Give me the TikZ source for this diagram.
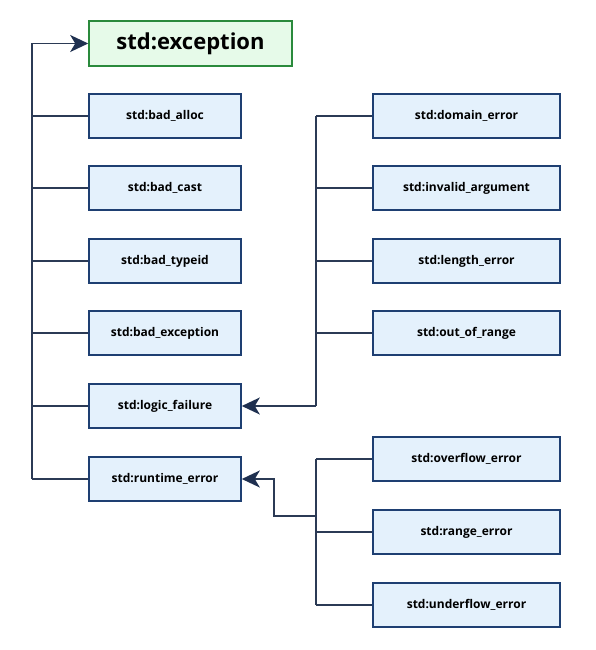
\documentclass[tikz,border=0pt]{standalone}
\usepackage{fontspec}
\setmainfont{Open Sans}
\usetikzlibrary{arrows.meta}
\definecolor{boxfill}{HTML}{E4F1FC}
\definecolor{boxdraw}{HTML}{1E3F72}
\definecolor{rootfill}{HTML}{E6FAE9}
\definecolor{rootdraw}{HTML}{2A8A3C}
\definecolor{linec}{HTML}{2B3A55}
\definecolor{tipc}{HTML}{1F3050}
\tikzset{
  cls/.style={draw=boxdraw, fill=boxfill, line width=1.6pt, minimum height=44pt, inner sep=0pt, font=\fontsize{12}{14}\selectfont\bfseries},
  leftcls/.style={cls, minimum width=152pt},
  rightcls/.style={cls, minimum width=187pt},
  root/.style={draw=rootdraw, fill=rootfill, line width=1.6pt, minimum width=203pt, minimum height=45pt, inner sep=0pt, font=\fontsize{22}{25}\selectfont\bfseries},
  conn/.style={draw=linec, line width=1.7pt},
  arr/.style={conn, -{Stealth[length=18pt, width=17pt, inset=5pt, color=tipc]}}
}
\begin{document}
\begin{tikzpicture}[x=1pt, y=-1pt]
\useasboundingbox (0,0) rectangle (596,650);
\node[root] (exc) at (190.5,43.5) {std:exception};
\node[leftcls] (alloc) at (165,116) {std:bad\_alloc};
\node[leftcls] (cast) at (165,188) {std:bad\_cast};
\node[leftcls] (typeid) at (165,261) {std:bad\_typeid};
\node[leftcls] (bexc) at (165,333) {std:bad\_exception};
\node[leftcls] (logic) at (165,406) {std:logic\_failure};
\node[leftcls] (runtime) at (165,479) {std:runtime\_error};
\node[rightcls] (domain) at (466.5,116) {std:domain\_error};
\node[rightcls] (inval) at (466.5,188) {std:invalid\_argument};
\node[rightcls] (length) at (466.5,261) {std:length\_error};
\node[rightcls] (range) at (466.5,333) {std:out\_of\_range};
\node[rightcls] (over) at (466.5,459) {std:overflow\_error};
\node[rightcls] (rerr) at (466.5,532) {std:range\_error};
\node[rightcls] (under) at (466.5,605) {std:underflow\_error};
\coordinate (ltop) at (32,43.5);
\coordinate (lbot) at (32,479);
\coordinate (mtop) at (316,116);
\coordinate (mbot) at (316,406);
\coordinate (ntop) at (316,459);
\coordinate (nbot) at (316,605);
\coordinate (njoin) at (316,516);
\coordinate (nbend) at (274,516);
% left hierarchy
\draw[conn] (lbot) -- (ltop);
\draw[arr] (ltop) -- (exc.west);
\foreach \n in {alloc,cast,typeid,bexc,logic,runtime}
  \draw[conn] (ltop |- \n.west) -- (\n.west);
% logic errors
\draw[conn] (mtop) -- (mbot);
\foreach \n in {domain,inval,length,range}
  \draw[conn] (mtop |- \n.west) -- (\n.west);
\draw[arr] (mbot) -- (logic.east);
% runtime errors
\draw[conn] (ntop) -- (nbot);
\foreach \n in {over,rerr,under}
  \draw[conn] (ntop |- \n.west) -- (\n.west);
\draw[arr] (njoin) -- (nbend) |- (runtime.east);
\end{tikzpicture}
\end{document}
